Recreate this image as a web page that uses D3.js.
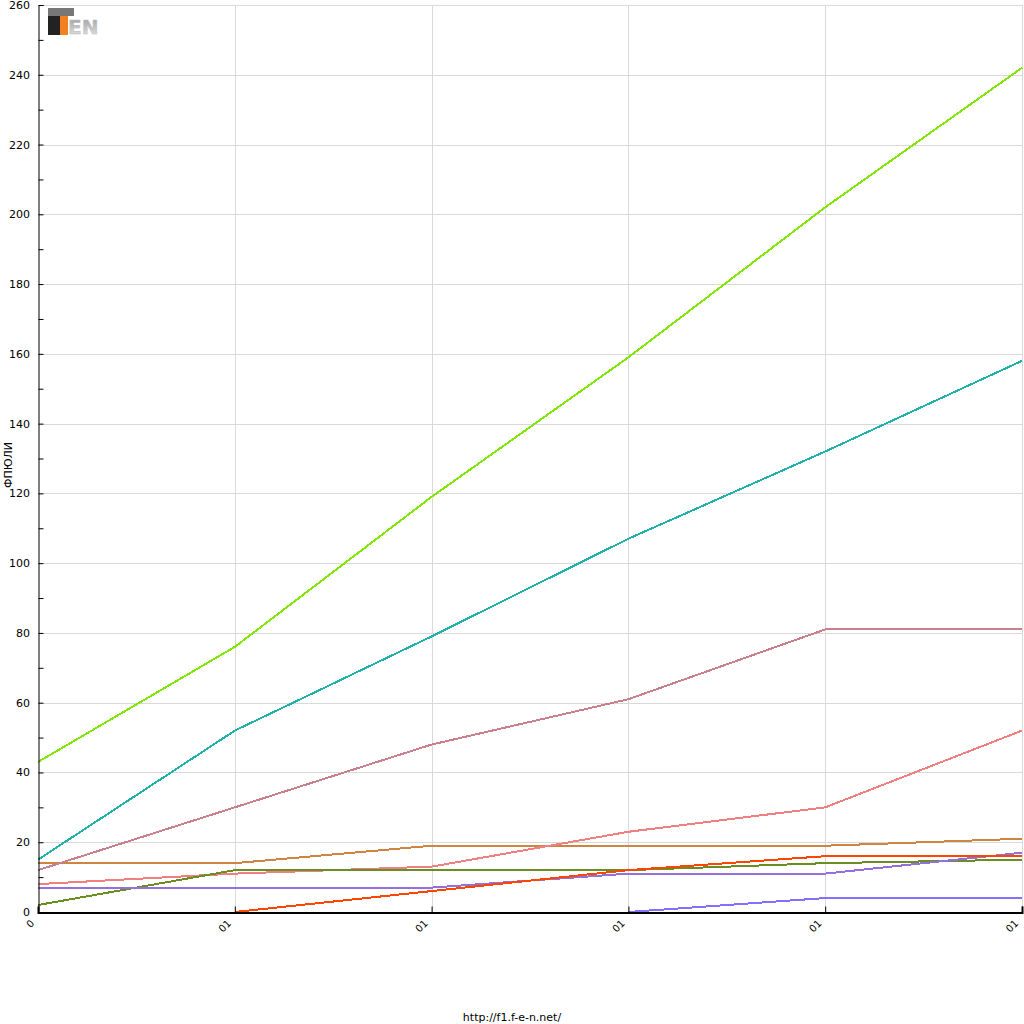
<!DOCTYPE html>
<html><head><meta charset="utf-8">
<script src="https://cdn.jsdelivr.net/npm/d3@7"></script>
<style>body{margin:0;background:#fff}svg{display:block;font-family:"DejaVu Sans",sans-serif}</style>
</head><body>
<svg id="c" width="1024" height="1024"></svg>
<script>
const categories = ["0","01","01","01","01","01"];
const yTicks = [0,20,40,60,80,100,120,140,160,180,200,220,240,260];
const sLime   = [43, 76, 119, 159, 202, 242];
const sTeal   = [15, 52, 79, 107, 132, 158];
const sMauve  = [12, 30, 48, 61, 81, 81];
const sSalmon = [8, 11, 13, 23, 30, 52];
const sPeru   = [14, 14, 19, 19, 19, 21];
const sOlive  = [2, 12, 12, 12, 14, 15];
const sPurple = [7, 7, 7, 11, 11, 17];
const sRed    = [null, 0, 6, 12, 16, 16];
const sSlate  = [null, null, null, 0, 4, 4];
const seriesList = [
  {v:sPeru, c:"#cd853f"},
  {v:sSalmon, c:"#f08080"},
  {v:sOlive, c:"#6b8e23"},
  {v:sPurple, c:"#9370db"},
  {v:sRed, c:"#ff4500"},
  {v:sSlate, c:"#8470ff"},
  {v:sMauve, c:"#c8808c"},
  {v:sTeal, c:"#20b2aa"},
  {v:sLime, c:"#80e800"}
];
const svg = d3.select("#c");
const L=38, R=1022, T=5, B=912;
const x = d3.scalePoint().domain(d3.range(categories.length)).range([L,R]);
const y = d3.scaleLinear().domain([0,260]).range([B,T]);

// grid
const g = svg.append("g");
g.selectAll("line.h").data(yTicks).join("line")
  .attr("x1",L).attr("x2",R).attr("y1",d=>Math.round(y(d))+0.5).attr("y2",d=>Math.round(y(d))+0.5)
  .attr("stroke","#d9d9d9").attr("stroke-width",1);
g.selectAll("line.v").data(d3.range(1,categories.length)).join("line")
  .attr("y1",T).attr("y2",B).attr("x1",d=>Math.round(x(d))+0.5).attr("x2",d=>Math.round(x(d))+0.5)
  .attr("stroke","#d9d9d9").attr("stroke-width",1);

// lines
const line = d3.line().defined(d=>d!=null).x((d,i)=>x(i)).y(d=>y(d));
svg.append("g").selectAll("path").data(seriesList).join("path")
  .attr("d",d=>line(d.v)).attr("fill","none").attr("stroke",d=>d.c).attr("stroke-width",2)
  .attr("shape-rendering","crispEdges");

// y axis
const ya = svg.append("g").attr("transform",`translate(${L+0.5},0)`)
  .call(d3.axisRight(y).tickValues(d3.range(0,261,10)).tickSize(5).tickFormat(""));
ya.select(".domain").attr("stroke","#000");
ya.selectAll(".tick line").attr("stroke","#000");
svg.append("g").selectAll("text").data(yTicks).join("text")
  .attr("x",30).attr("y",d=>y(d)+4).attr("text-anchor","end")
  .attr("font-size",11).attr("fill","#000").text(d=>d);

// x axis
const xa = svg.append("g").attr("transform",`translate(0,${B+0.5})`)
  .call(d3.axisTop(x).tickSize(6).tickFormat(""));
xa.select(".domain").attr("stroke","#000").attr("stroke-width",2);
xa.selectAll(".tick line").attr("stroke","#000");
svg.append("g").selectAll("text").data(categories).join("text")
  .attr("transform",(d,i)=>`translate(${x(i)-3},${B+12}) rotate(-45)`)
  .attr("text-anchor","end").attr("font-size",10).attr("fill","#000").text(d=>d);

// y label
svg.append("text").attr("transform","translate(12,465) rotate(-90)")
  .attr("text-anchor","middle").attr("font-size",11).attr("fill","#000").text("ФПЮЛИ");

// footer
svg.append("text").attr("x",512).attr("y",1021).attr("text-anchor","middle")
  .attr("font-size",11).attr("fill","#000").text("http://f1.f-e-n.net/");

// logo
const lg = svg.append("g").attr("transform","translate(48,8)");
const grad = svg.append("defs").append("linearGradient").attr("id","lgg").attr("x1",0).attr("y1",0).attr("x2",0).attr("y2",1);
grad.append("stop").attr("offset","0").attr("stop-color","#9a9a9a");
grad.append("stop").attr("offset","1").attr("stop-color","#e8e8e8");
lg.append("rect").attr("x",0).attr("y",0).attr("width",14).attr("height",27).attr("fill","#222");
lg.append("rect").attr("x",0).attr("y",0).attr("width",26).attr("height",8).attr("fill","#777");
lg.append("rect").attr("x",12).attr("y",8).attr("width",8).attr("height",19).attr("fill","#f08020");
lg.append("text").attr("x",20).attr("y",26).attr("font-size",20).attr("font-weight","bold")
  .attr("fill","url(#lgg)").attr("stroke","#bbb").attr("stroke-width",0.5).text("EN");
</script>
</body></html>
